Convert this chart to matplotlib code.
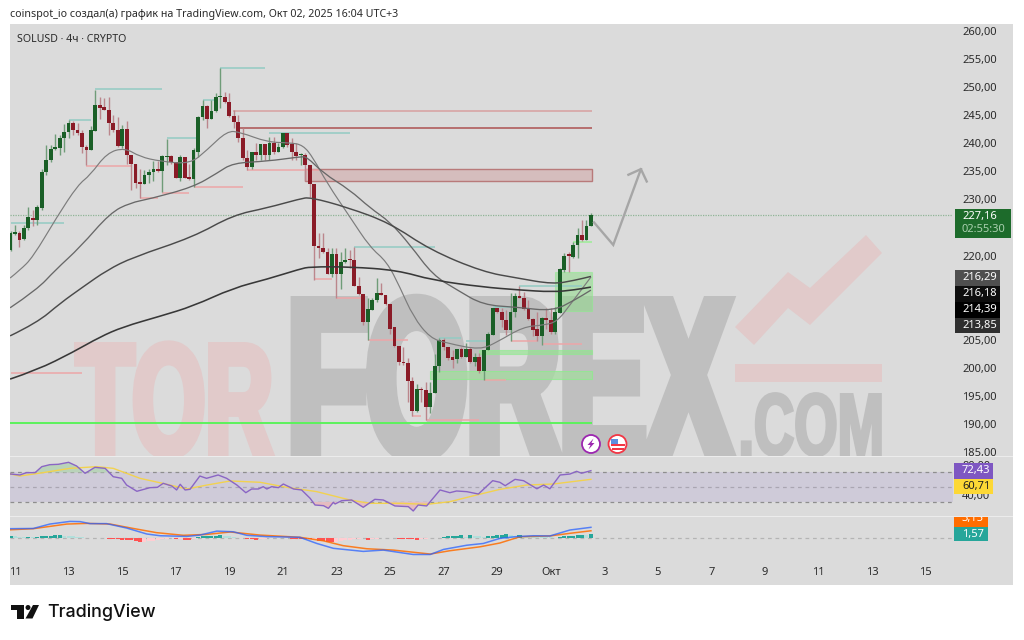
import numpy as np
import matplotlib
matplotlib.use('Agg')
import matplotlib.pyplot as plt
import matplotlib.patheffects as pe
from matplotlib.patches import Rectangle, Circle, Polygon, PathPatch
from matplotlib.path import Path
from matplotlib.transforms import Affine2D, IdentityTransform

plt.rcParams['font.family'] = ['Noto Sans', 'DejaVu Sans']

# candles, 4h bars, bar 0 = Sep 11 00:00
opens = [221.0,223.9,224.1,222.9,224.9,226.7,226.4,228.4,234.8,237.0,239.0,239.2,241.0,
         242.0,243.6,242.4,241.9,239.4,238.8,242.2,246.8,246.4,246.0,243.7,242.4,239.6,
         242.5,237.9,236.3,232.9,232.8,234.3,234.9,235.5,235.1,237.5,237.7,236.7,233.9,
         237.6,234.0,233.6,238.5,244.7,246.6,244.4,245.8,248.2,248.2,247.4,244.9,243.8,
         240.9,237.3,235.8,238.5,237.9,239.8,237.9,240.1,238.5,239.4,241.8,239.9,238.5,
         237.9,237.9,236.1,232.7,221.7,221.4,220.6,216.8,220.2,216.8,218.9,219.3,219.2,
         214.5,213.1,208.2,210.3,212.1,213.4,213.0,211.4,207.2,203.9,201.1,200.8,197.7,
         192.4,196.2,196.0,193.1,195.6,200.4,205.0,203.7,201.9,201.5,203.4,201.9,203.4,
         201.1,202.0,199.5,203.2,205.9,210.6,210.0,208.6,206.7,209.9,212.8,212.5,210.5,
         208.7,206.9,205.7,208.8,208.5,206.3,209.8,217.4,220.1,219.8,221.8,223.7,222.8,225.3]
highs = [224.4,225.4,224.3,225.4,228.6,228.1,229.0,235.5,239.7,239.7,241.7,241.5,243.4,
         244.1,243.9,243.6,242.4,239.7,243.0,249.5,248.3,248.0,248.3,245.0,244.7,243.3,
         243.9,237.9,236.4,235.4,235.2,235.5,236.8,236.8,237.9,240.7,237.9,236.7,237.9,
         237.6,236.4,239.1,244.9,247.7,246.8,247.7,248.9,253.4,249.1,248.9,245.9,245.0,
         242.7,238.8,238.5,240.0,239.8,239.8,241.2,241.2,240.0,241.8,241.8,240.9,240.0,
         238.3,238.2,236.1,232.7,224.0,224.0,221.3,221.3,221.3,220.7,221.3,221.0,221.6,
         216.2,213.1,212.4,212.4,216.0,215.2,213.0,211.4,207.2,203.9,203.8,201.7,198.4,
         197.2,196.6,197.5,197.5,202.4,205.3,205.3,203.7,203.2,203.4,203.8,204.4,203.8,
         202.6,202.6,203.2,206.4,210.7,210.6,210.6,210.3,213.3,213.3,214.6,213.6,212.1,
         208.8,210.0,209.1,210.6,210.6,210.9,217.7,220.5,220.7,222.5,225.0,226.3,226.3,227.6]
lows = [220.8,223.6,221.6,222.8,224.5,225.3,225.4,228.2,234.3,236.7,238.8,237.9,238.5,
        240.9,241.5,241.5,238.2,236.1,238.8,242.2,244.4,246.0,241.5,242.1,239.4,239.1,
        236.4,231.7,232.0,230.2,232.8,232.9,233.2,234.8,231.4,236.1,236.4,233.8,233.2,
        233.8,233.5,232.3,237.6,244.2,242.7,244.4,245.6,246.2,247.2,244.7,242.7,240.3,
        237.0,235.2,235.5,237.0,237.0,237.0,237.0,238.1,238.5,239.1,239.4,237.0,237.0,
        236.1,233.2,230.5,215.6,219.5,220.4,216.8,216.2,212.4,214.0,218.6,217.7,214.5,
        213.0,207.6,205.0,210.3,211.8,213.0,211.2,206.1,203.8,200.5,200.5,194.0,191.4,
        192.2,194.0,190.7,192.0,195.5,199.3,203.2,201.4,199.9,200.8,201.7,201.9,200.8,
        200.3,199.1,197.8,203.2,205.9,209.8,207.3,205.8,204.7,209.1,212.4,210.3,208.5,
        205.6,204.7,204.1,207.0,206.1,206.1,209.7,217.1,217.1,219.6,219.5,222.6,222.7,225.2]
closes = [224.0,224.1,222.8,224.9,226.8,226.4,228.6,234.9,237.1,239.0,239.3,241.0,242.0,
          243.6,242.4,241.9,239.4,238.8,242.4,246.8,246.2,246.0,243.7,242.4,239.6,242.5,
          237.9,236.3,232.9,232.8,234.3,234.9,235.5,235.1,237.7,237.7,236.7,233.9,237.6,
          233.9,233.6,238.8,244.7,246.6,244.4,245.8,248.2,248.3,247.4,244.9,243.8,240.9,
          237.3,235.8,238.5,237.9,239.8,237.9,240.0,238.5,239.4,241.8,239.7,238.5,237.7,
          238.1,236.1,232.7,221.7,221.4,220.6,216.8,220.2,216.8,218.9,219.3,219.2,214.5,
          213.1,208.2,210.4,212.1,213.4,213.0,211.4,207.0,203.9,201.1,200.8,197.7,192.4,
          196.2,196.0,193.1,195.6,200.4,205.0,203.7,201.7,201.4,203.4,201.9,203.4,201.1,
          202.0,199.5,203.2,206.0,210.6,210.0,208.6,206.7,209.9,212.8,212.5,210.5,208.7,
          206.7,205.7,208.8,208.5,206.3,209.9,217.6,220.0,220.0,221.9,223.7,222.8,225.3,227.16]

# moving averages (bar, price)
ma1_bar = [-1.1,1.1,4.0,9.4,14.1,16.8,20.6,24.6,28.0,32.5,39.2,43.0,47.5,50.4,56.5,61.6,64.5,66.8,69.9,75.0,
           79.5,83.3,86.2,89.2,93.0,96.8,104.2,108.0,113.8,118.3,121.4,124.3,129]
ma1_val = [216.0,217.4,219.7,226.9,232.6,234.3,238.3,239.2,237.6,236.8,236.3,238.8,242.2,242.0,240.2,240.1,239.7,237.4,232.9,226.9,
           221.5,218.9,214.4,209.1,205.3,204.4,203.2,204.6,207.3,207.6,208.2,211.2,216.18]
ma2_bar = [-1.1,4.9,9.0,14.6,21.3,25.8,30.2,39.9,45.3,48.8,56.5,63.8,65.4,69.0,75.0,79.5,84.0,88.5,93.6,99.0,104.8,112.5,120.5,125.4,129]
ma2_val = [210.7,213.9,217.4,221.5,227.6,229.4,230.1,232.2,234.7,236.5,236.8,237.6,237.6,234.7,231.7,228.5,226.0,221.9,216.5,213.9,211.2,210.8,210.1,212.1,213.85]
ma3_bar = [-1.1,4.9,10.1,15.2,20.6,26.4,39.9,48.8,56.5,63.8,66.1,74.4,84.0,93.0,104.8,112.5,120.5,125.4,129]
ma3_val = [205.7,208.0,211.5,214.4,217.4,219.7,223.3,227.2,228.5,230.1,230.4,228.6,225.8,221.0,217.1,216.0,214.9,215.6,216.29]
ma4_bar = [-1.1,4.9,13.0,19.0,24.2,32.5,39.9,48.8,56.5,63.8,66.1,75.0,85.6,93.6,104.8,112.5,120.5,125.4,129]
ma4_val = [198.0,199.6,202.8,205.5,207.3,209.2,211.0,214.2,215.8,217.6,218.0,218.0,217.4,215.6,214.4,213.9,213.5,213.9,214.39]

# swing levels (price, first bar, last bar)
high_price = [225.8,244.2,249.6,240.9,247.8,253.4,241.8,221.6,205.3,204.8,210.9,214.6]
high_start = [-1,12,18,34,42,46,57,76,95,101,107,113]
high_end = [11,17,33,41,45,56,75,94,100,106,111,127]
low_price = [199.1,236.0,230.2,231.2,232.3,235.2,215.8,212.4,205.0,191.4,190.7,197.8,204.7,204.2]
low_start = [-1,16,28,33,40,52,67,72,79,89,92,105,111,118]
low_end = [15,26,32,39,51,68,71,78,88,91,104,110,117,127]

# RSI pane
rsi_bar = [-1.1,1.1,2.6,4.5,6.0,7.8,9.7,12.0,13.8,15.7,17.9,20.2,22.0,23.9,25.0,27.3,30.2,31.9,33.2,35.1,36.2,37.0,38.1,39.2,
           41.4,42.9,45.5,47.4,49.7,51.7,53.0,54.5,55.6,56.4,57.5,59.0,60.1,62.4,64.2,66.1,67.2,69.1,70.2,71.3,71.7,73.2,
           75.4,78.0,80.6,82.5,85.1,88.1,89.2,90.3,92.2,95.2,97.4,98.9,101.2,103.8,107.0,108.6,109.8,112.0,113.9,116.9,
           118.4,119.8,122.1,124.3,125.8,126.9,129]
rsi_val = [68.0,66.6,69.8,69.8,77.9,80.6,81.1,83.8,78.8,68.9,77.0,75.6,64.3,62.1,53.0,44.5,49.4,49.9,55.3,51.7,46.3,54.0,46.3,47.2,
           65.2,62.1,66.6,62.1,53.0,42.6,47.6,47.6,50.8,47.6,50.8,49.4,54.4,47.6,46.3,35.0,25.9,25.0,21.4,29.5,27.3,31.8,
           32.7,22.8,33.6,32.7,24.6,23.7,17.8,25.9,24.6,46.3,42.6,44.9,44.0,40.8,58.9,56.7,52.1,60.7,58.9,47.9,
           53.0,47.9,66.6,67.9,71.6,69.0,72.43]
rsi_ma_bar = [-1.1,1.1,6.3,12.3,18.3,22.0,28.0,34.0,38.5,43.0,48.2,54.9,60.9,67.6,75.0,79.5,86.2,92.2,97.4,103.4,108.6,114.6,120.6,129]
rsi_ma_val = [68.0,65.2,69.8,75.6,77.9,75.6,62.1,54.0,47.6,53.0,58.5,56.7,49.9,44.0,32.7,28.2,28.2,26.8,30.4,39.5,47.1,53.0,54.4,60.71]

# MACD pane
macd_bar = [-1.1,4.1,7.8,12.3,14.6,16.8,20.5,25.0,29.5,32.5,38.5,41.4,45.2,48.9,51.9,56.4,63.8,67.6,71.3,78.0,82.5,89.2,93.0,96.0,101.2,104.9,108.6,112.0,116.1,119.8,124.3,129]
macd_val = [4.1,4.2,6.2,7.4,7.3,6.4,6.4,4.4,1.7,0.9,0.6,1.2,3.0,2.7,1.1,0.5,0.2,-2.6,-4.8,-6.2,-5.6,-7.6,-7.6,-5.3,-3.4,-2.6,-0.3,0.45,0.9,0.8,3.5,4.72]
signal_bar = [-1.1,4.1,11.6,16.1,21.3,26.5,31.7,37.7,42.9,48.2,54.9,63.8,69.1,73.5,78.8,84.7,93.0,97.4,104.2,108.6,113.1,119.8,124.3,129]
signal_val = [3.6,4.1,6.2,6.5,6.2,4.2,2.3,1.1,1.5,2.6,1.2,0.2,-1.4,-3.6,-5.0,-5.6,-7.4,-5.9,-4.1,-2.4,0.45,0.8,2.0,3.15]
hist_val = [0.8,0.6,0.3,0.2,0.5,0.3,0.4,0.6,0.8,1.0,1.2,1.3,1.0,0.9,0.7,0.5,0.3,0.1,-0.1,-0.2,-0.1,-0.05,-0.4,-0.6,-0.8,-0.9,-1.0,-1.2,-1.4,-2.0,
            -1.8,-1.5,-1.3,-1.0,-0.8,-0.5,-0.2,-0.8,-0.4,-1.0,-1.1,-0.5,0.3,0.6,0.8,0.9,1.0,1.1,0.8,0.6,0.3,0.1,-0.2,-0.5,-0.7,-1.0,-0.6,-0.4,-0.3,-0.2,
            -0.2,-0.1,-0.1,-0.4,-0.5,-0.6,-0.6,-0.7,-0.5,-1.4,-1.6,-1.8,-2.0,-1.8,-1.4,-1.2,-1.0,-0.8,-0.5,-0.3,-1.0,-0.6,-0.4,-0.3,-0.2,-0.1,-0.2,-0.4,-0.5,-0.6,
            -0.7,-0.9,-0.7,-0.5,-0.3,-0.1,0.1,0.4,0.7,0.9,1.0,1.1,0.4,1.2,0.7,0.6,0.5,0.8,1.0,1.1,1.3,1.5,1.2,0.9,1.2,0.9,0.7,0.6,0.5,0.4,
            0.3,0.2,0.1,0.4,0.6,0.8,1.0,1.2,1.4,1.35,1.57]

price_ticks = list(range(185, 261, 5))
price_labels = ['%d,00' % p for p in price_ticks]
day_ticks = list(range(0, 205, 12))
day_labels = ['11','13','15','17','19','21','23','25','27','29','Окт','3','5','7','9','11','13','15'][:len(day_ticks)]

W, H = 1024, 640
pix = IdentityTransform()


class Squeeze(pe.AbstractPathEffect):
    # condensed watermark letters, text stays a normal Text object
    def __init__(self, sx, x0, stroke=0):
        self.sx, self.x0, self.stroke = sx, x0, stroke

    def draw_path(self, renderer, gc, tpath, affine, rgbFace=None):
        t = affine + Affine2D().translate(-self.x0, 0).scale(self.sx, 1).translate(self.x0, 0)
        gc0 = renderer.new_gc()
        gc0.copy_properties(gc)
        gc0.set_foreground(rgbFace)
        gc0.set_linewidth(self.stroke)
        gc0.set_joinstyle('miter')
        renderer.draw_path(gc0, tpath, t, rgbFace)
        gc0.restore()


def add_axes(top, bottom):
    a = fig.add_axes([10 / W, (H - bottom) / H, 943 / W, (bottom - top) / H])
    a.patch.set_visible(False)
    for s in a.spines.values():
        s.set_visible(False)
    a.set_xlim(-1.12, 210.1)
    a.yaxis.tick_right()
    a.tick_params(length=0, labelsize=8, labelcolor='#2a2a2a', pad=6.5)
    a.set_xticks([])
    return a


def box(x0, y0, x1, y1, color, zorder=5):
    fig.add_artist(Rectangle((x0, H - y1), x1 - x0, y1 - y0, transform=pix, fc=color, ec='none', zorder=zorder))


def txt(x, y, s, color='#222222', size=8, **kw):
    kw.setdefault('va', 'center')
    return fig.text(x, H - y, s, transform=pix, color=color, fontsize=size, zorder=6, **kw)


def smooth(a, xs, ys, color, lw):
    # the indicator curves are smooth, so round off the corners between read points
    pts = np.column_stack([xs, ys])
    verts = [pts[0]]
    codes = [Path.MOVETO]
    for p, nxt in zip(pts[1:-1], pts[2:]):
        verts += [p, (p + nxt) / 2]
        codes += [Path.CURVE3, Path.CURVE3]
    verts.append(pts[-1])
    codes.append(Path.LINETO)
    a.add_patch(PathPatch(Path(verts, codes), fc='none', ec=color, lw=lw, zorder=5))


fig = plt.figure(figsize=(W / 100, H / 100), dpi=100, facecolor='white')
box(10, 24, 1013, 585, '#dbdbdb', zorder=-5)

ax = add_axes(24, 456)
rsi = add_axes(457, 516)
macd = add_axes(517, 560)

ax.set_ylim(184.3, 261.25)
ax.set_yticks(price_ticks)
ax.set_yticklabels(price_labels)

# watermark
wm = [('TOR', 73, 455, 113, 0.59, '#e1caca', 7), ('FOREX', 282, 456, 160, 0.575, '#bfbfbf', 12), ('.COM', 737, 455, 62, 0.634, '#bfbfbf', 3)]
for s, x, y, cap, sx, col, st in wm:
    t = ax.text(x + st / 2, H - y, s, transform=pix, color=col, fontsize=(cap - st / 2) / 0.688 * 0.72, fontweight='bold',
                family=['Liberation Sans', 'DejaVu Sans'], va='baseline', ha='left', zorder=0, clip_on=True)
    t.set_clip_box(ax.bbox)
    t.set_path_effects([Squeeze(sx, x + st / 2, st * 0.72)])
logo_pts = [(735, 327), (788, 272), (810, 288), (866, 235), (882, 253), (810, 325), (788, 308), (754, 345)]
ax.add_patch(Polygon([(x, H - y) for x, y in logo_pts], transform=pix, fc='#e1caca', ec='none', zorder=0))
ax.add_patch(Rectangle((735, H - 382), 147, 18, transform=pix, fc='#e1caca', ec='none', zorder=0))

# zones
ax.add_patch(Rectangle((65, 233.2), 129.3 - 65, 2.2, fc='#d5bdbd', ec='#b87a7a', lw=1, zorder=1))
ax.add_patch(Rectangle((121, 210.1), 8.3, 6.9, fc='#8fdc8a', ec='#8cee8c', lw=0.8, alpha=0.55, zorder=1))
ax.add_patch(Rectangle((104, 202.4), 25.3, 0.8, fc='#8fe88a', ec='#8cee8c', lw=0.8, alpha=0.6, zorder=1))
ax.add_patch(Rectangle((93, 198.0), 36.3, 1.4, fc='#a5dc9f', ec='#8cee8c', lw=0.8, alpha=0.75, zorder=1))
ax.hlines(245.8, 48.8, 129.3, color='#d8a0a0', lw=1.1, zorder=1)
ax.hlines(242.8, 50, 129.3, color='#b05c5c', lw=1.2, zorder=1)
ax.hlines(222.5, 125, 129.3, color='#a9eaa5', lw=1.4, zorder=1)
ax.hlines(190.2, -1.12, 129.3, color='#5cf25c', lw=1.4, zorder=1)
ax.hlines(227.16, -1.12, 210.1, color='#8fb596', lw=0.9, linestyles=(0, (1, 1)), zorder=1)

# swing levels
ax.hlines(high_price, high_start, high_end, color='#93cbc3', lw=1.1, zorder=2)
ax.hlines(low_price, low_start, low_end, color='#eda6a8', lw=1.1, zorder=2)

# candles
bars = np.arange(-1, 130)
o, h, l, c = map(np.array, (opens, highs, lows, closes))
up = c >= o
ax.vlines(bars, l, h, color=np.where(up, '#6f9c78', '#bb868c'), lw=1.0, zorder=3)
ax.bar(bars, np.maximum(np.abs(c - o), 0.25), bottom=np.minimum(o, c), width=0.85,
       color=np.where(up, '#1a5f27', '#8a1b27'), lw=0, zorder=4)

# moving averages
smooth(ax, ma1_bar, ma1_val, '#7c7c7c', 0.85)
smooth(ax, ma2_bar, ma2_val, '#686868', 0.95)
smooth(ax, ma3_bar, ma3_val, '#4a4a4a', 1.05)
smooth(ax, ma4_bar, ma4_val, '#383838', 1.15)

# hand drawn arrow
ax.plot([129.7, 134, 140.2], [225.9, 221.9, 235.4], color='#a6a6a6', lw=1.7, zorder=5, solid_joinstyle='miter')
ax.plot([137.4, 140.2, 141.5], [234.4, 235.4, 233.2], color='#a6a6a6', lw=1.7, zorder=5)

# RSI
rsi.set_ylim(11, 91)
rsi.set_yticks([40, 80])
rsi.set_yticklabels(['40,00', '80,00'])
rsi.axhspan(30, 70, color='#cfcbd9', lw=0, zorder=0)
for lvl, col in ((70, '#8e8e8e'), (50, '#aaa6b2'), (30, '#8e8e8e')):
    rsi.axhline(lvl, color=col, lw=0.9, ls=(0, (3, 3)), zorder=1)
rb = np.array(rsi_bar)
rv = np.array(rsi_val)
rsi.fill_between(rb, 70, rv, where=rv >= 70, interpolate=True, color='#b9d3b9', lw=0, zorder=1)
rsi.fill_between(rb, 30, rv, where=rv <= 30, interpolate=True, color='#e5bcc0', lw=0, zorder=1)
rsi.plot(rsi_ma_bar, rsi_ma_val, color='#f2d24f', lw=1.0, zorder=2)
rsi.plot(rsi_bar, rsi_val, color='#8a65c4', lw=1.0, zorder=3)

# MACD
macd.set_ylim(-10.1, 9.4)
macd.set_yticks([])
macd.axhline(0, color='#b4b4b4', lw=0.9, ls=(0, (3, 3)), zorder=0)
hv = np.array(hist_val)
prev = np.r_[hv[0] - 0.1, hv[:-1]]
hist_col = np.where(hv >= 0, np.where(hv >= prev, '#26a69a', '#b2dfdb'), np.where(hv <= prev, '#ff5252', '#ffcdd2'))
macd.bar(bars, hv, width=0.9, color=hist_col, lw=0, zorder=1)
macd.plot(signal_bar, signal_val, color='#ff6d00', lw=1.1, alpha=0.85, zorder=2)
macd.plot(macd_bar, macd_val, color='#2962ff', lw=1.1, alpha=0.75, zorder=3)

macd.set_xticks(day_ticks)
macd.set_xticklabels(day_labels)
macd.tick_params(axis='x', length=0, labelsize=8, labelcolor='#2a2a2a', pad=5)
macd.get_xticklabels()[10].set_fontweight('bold')

# pane separators
for y in (456.5, 516.5):
    box(10, y - 0.5, 1013, y + 0.5, '#ececec', zorder=2)

# price labels
box(955, 209, 1011, 238, '#1d6b2b')
txt(962, 216.5, '227,16', color='white')
txt(962, 230, '02:55:30', color='#a9cfae')
for y0, y1, col, s in [(270, 285.7, '#4f4f4f', '216,29'), (285.7, 301.7, '#0e0e0e', '216,18'),
                       (301.7, 317.7, '#000000', '214,39'), (317.7, 333.3, '#2f2f2f', '213,85')]:
    box(955, y0, 1000, y1, col)
    txt(962, (y0 + y1) / 2, s, color='white')
box(954, 463.3, 993, 479, '#7e57c2')
txt(962, 471, '72,43', color='white')
box(954, 479, 993, 494, '#fdd835')
txt(962, 486.5, '60,71', color='#222222')
box(954, 517, 988, 526.7, '#ff6d00')
t = txt(962, 518, '3,15', color='white')
t.set_clip_box(Rectangle((954, H - 526.7), 34, 9.7).get_bbox())
t.set_clip_on(True)
box(954, 527, 988, 541, '#26a69a')
txt(962, 534, '1,57', color='white')

# event icons
for cx, ring in ((591, '#9c27b0'), (617.5, '#f23645')):
    fig.add_artist(Circle((cx, H - 444), 9, transform=pix, fc='white', ec=ring, lw=1.3, zorder=5))
bolt = [(593.5, 438.5), (587.5, 445), (590.5, 445), (588.5, 449.5), (594.5, 443), (591.5, 443)]
fig.add_artist(Polygon([(x, H - y) for x, y in bolt], transform=pix, fc='#9c27b0', ec='none', zorder=6))
box(610.5, 443.5, 624.5, 446, '#f23645', zorder=6)
box(611.5, 448, 623.5, 450, '#f23645', zorder=6)
box(611, 438.5, 618, 443.5, '#5b8fe0', zorder=6)

# headers and logo
txt(10, 15, 'coinspot_io создал(а) график на TradingView.com, Окт 02, 2025 16:04 UTC+3', size=7.7, color='#2a2a2a')
txt(17, 39.5, 'SOLUSD · 4ч · CRYPTO', size=7.6, color='#2a2a2a')

mark = [[(11, 605), (23.5, 605), (23.5, 618.5), (17, 618.5), (17, 610), (11, 610)],
        [(33, 605), (39, 605), (32.5, 618.5), (25.5, 618.5)]]
for pts in mark:
    fig.add_artist(Polygon([(x, H - y) for x, y in pts], transform=pix, fc='#111111', ec='none', zorder=5))
fig.add_artist(Circle((28, H - 607.5), 2.5, transform=pix, fc='#111111', ec='none', zorder=5))
txt(47, 612, 'TradingView', size=12.9, color='#111111', fontweight='medium', family=['Inter', 'DejaVu Sans'])

fig.savefig('out.png', dpi=100)
